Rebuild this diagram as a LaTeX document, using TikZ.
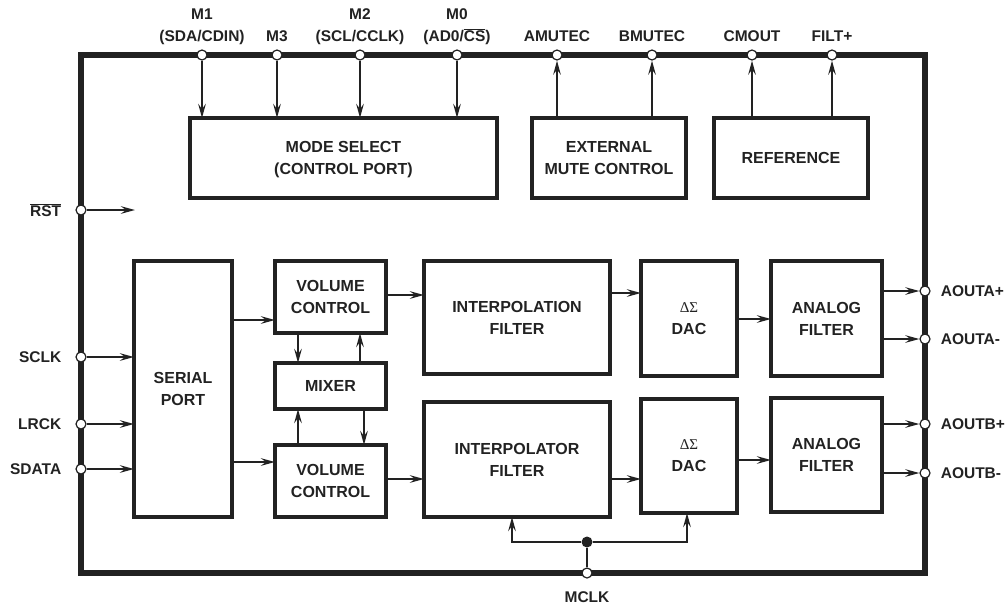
\documentclass[tikz,border=0pt]{standalone}
\usepackage{fontspec}
\setmainfont{Liberation Sans}
\newfontfamily\dsfont{Liberation Serif}
\usetikzlibrary{positioning, arrows.meta}
\definecolor{ink}{HTML}{222222}
\newcommand{\dsig}{{\dsfont\mdseries\fontsize{15}{15}\selectfont ΔΣ}}

\begin{document}
\begin{tikzpicture}[x=1pt, y=-1pt,
    box/.style={draw=ink, text=ink, line width=3.2pt, inner sep=0pt, outer sep=0pt, align=center, font=\bfseries\fontsize{16}{22}\selectfont},
    arr/.style={draw=ink, line width=2.3pt, -{Stealth[length=14pt, width=7.5pt, inset=5pt]}},
    port/.style={circle, draw=ink, fill=white, line width=1.2pt, inner sep=0pt, minimum size=10pt},
    lbl/.style={text=ink, font=\bfseries\fontsize{15.5}{22}\selectfont, inner sep=0pt, text depth=0pt},
    toplbl/.style={lbl, align=center, anchor=south}
  ]
  \useasboundingbox (0,0) rectangle (1008,608);

  % chip outline
  \draw[ink, line width=6pt] (81,55) rectangle (925,573);

  % control blocks
  \node[box, minimum width=307pt, minimum height=80pt, text depth=0pt] (mode) at (343.5,158) {MODE SELECT\\(CONTROL PORT)};
  \node[box, minimum width=154pt, minimum height=80pt, right=35pt of mode] (mute) {EXTERNAL\\MUTE CONTROL};
  \node[box, minimum width=154pt, minimum height=80pt, right=28pt of mute] (ref) {REFERENCE};

  % signal path
  \node[box, minimum width=98pt, minimum height=256pt] (serial) at (183,389) {SERIAL\\PORT};
  \node[box, minimum width=111pt, minimum height=72pt, right=43pt of serial.north east, anchor=north west] (vol1) {VOLUME\\CONTROL};
  \node[box, minimum width=111pt, minimum height=46pt, below=30pt of vol1] (mixer) {MIXER};
  \node[box, minimum width=111pt, minimum height=72pt, below=36pt of mixer] (vol2) {VOLUME\\CONTROL};
  \node[box, minimum width=186pt, minimum height=113pt, right=38pt of vol1.north east, anchor=north west] (interp1) {INTERPOLATION\\FILTER};
  \node[box, minimum width=186pt, minimum height=115pt, right=38pt of vol2.south east, anchor=south west] (interp2) {INTERPOLATOR\\FILTER};
  \node[box, minimum width=96pt, minimum height=115pt, right=31pt of interp1.north east, anchor=north west] (dac1) {\dsig\\DAC};
  \node[box, minimum width=96pt, minimum height=114pt, below=23pt of dac1] (dac2) {\dsig\\DAC};
  \node[box, minimum width=111pt, minimum height=115pt, right=34pt of dac1] (an1) {ANALOG\\FILTER};
  \node[box, minimum width=111pt, minimum height=114pt, below=22pt of an1] (an2) {ANALOG\\FILTER};

  % pins
  \foreach \nm/\x in {M1/202, M3/277, M2/360, M0/457, AM/557, BM/652, CM/752, FP/832}
    \node[port] (p\nm) at (\x,55) {};
  \foreach \nm/\y in {RST/210, SCLK/357, LRCK/424, SDATA/469}
    \node[port] (p\nm) at (81,\y) {};
  \foreach \nm/\y in {AOAp/291, AOAm/339, AOBp/424, AOBm/473}
    \node[port] (p\nm) at (925,\y) {};
  \node[port] (pMCLK) at (587,573) {};
  \node[circle, fill=ink, inner sep=0pt, minimum size=11pt] (mdot) at (587,542) {};
  \coordinate (rstend) at (135,210);

  % pin labels
  \node[toplbl] (tM1) at ([yshift=13pt]pM1.center) {M1\\(SDA/CDIN)};
  \node[toplbl] (tM3) at ([yshift=13pt]pM3.center) {M3};
  \node[toplbl] (tM2) at ([yshift=13pt]pM2.center) {M2\\(SCL/CCLK)};
  \node[toplbl] (tM0) at ([yshift=13pt]pM0.center) {M0\\(AD0/$\overline{\mbox{CS}}$)};
  \node[toplbl] (tAM) at ([yshift=13pt]pAM.center) {AMUTEC};
  \node[toplbl] (tBM) at ([yshift=13pt]pBM.center) {BMUTEC};
  \node[toplbl] (tCM) at ([yshift=13pt]pCM.center) {CMOUT};
  \node[toplbl] (tFP) at ([yshift=13pt]pFP.center) {FILT+};
  \node[lbl, left=14pt of pRST] (tRST) {$\overline{\mbox{RST}}$};
  \node[lbl, left=14pt of pSCLK] (tSCLK) {SCLK};
  \node[lbl, left=14pt of pLRCK] (tLRCK) {LRCK};
  \node[lbl, left=14pt of pSDATA] (tSDATA) {SDATA};
  \node[lbl, right=10pt of pAOAp] (tAOAp) {AOUTA+};
  \node[lbl, right=10pt of pAOAm] (tAOAm) {AOUTA-};
  \node[lbl, right=10pt of pAOBp] (tAOBp) {AOUTB+};
  \node[lbl, right=10pt of pAOBm] (tAOBm) {AOUTB-};
  \node[lbl, below=13pt of pMCLK] (tMCLK) {MCLK};

  % control connections
  \foreach \nm in {M1, M3, M2, M0}
    \draw[arr] (p\nm) -- (p\nm |- mode.north);
  \draw[arr] (mute.north -| pAM) -- (pAM);
  \draw[arr] (mute.north -| pBM) -- (pBM);
  \draw[arr] (ref.north -| pCM) -- (pCM);
  \draw[arr] (ref.north -| pFP) -- (pFP);
  \draw[arr] (pRST) -- (rstend);

  % serial inputs
  \foreach \nm in {SCLK, LRCK, SDATA}
    \draw[arr] (p\nm) -- (p\nm -| serial.west);

  % data path
  \draw[arr] (serial.east |- 0,320) -- (vol1.west |- 0,320);
  \draw[arr] (serial.east |- 0,462) -- (vol2.west |- 0,462);
  \draw[arr] (vol1.south -| 298,0) -- (mixer.north -| 298,0);
  \draw[arr] (mixer.north -| 360,0) -- (vol1.south -| 360,0);
  \draw[arr] (vol2.north -| 298,0) -- (mixer.south -| 298,0);
  \draw[arr] (mixer.south -| 364,0) -- (vol2.north -| 364,0);
  \draw[arr] (vol1.east |- 0,295) -- (interp1.west |- 0,295);
  \draw[arr] (vol2.east |- 0,479) -- (interp2.west |- 0,479);
  \draw[arr] (interp1.east |- 0,293) -- (dac1.west |- 0,293);
  \draw[arr] (interp2.east |- 0,479) -- (dac2.west |- 0,479);
  \draw[arr] (dac1.east |- 0,319) -- (an1.west |- 0,319);
  \draw[arr] (dac2.east |- 0,460) -- (an2.west |- 0,460);

  % analog outputs
  \draw[arr] (an1.east |- pAOAp) -- (pAOAp);
  \draw[arr] (an1.east |- pAOAm) -- (pAOAm);
  \draw[arr] (an2.east |- pAOBp) -- (pAOBp);
  \draw[arr] (an2.east |- pAOBm) -- (pAOBm);

  % master clock
  \draw[ink, line width=2.3pt] (pMCLK) -- (mdot);
  \draw[arr] (mdot) -| (interp2.south -| 512,0);
  \draw[arr] (mdot) -| (dac2.south -| 687,0);
\end{tikzpicture}
\end{document}
